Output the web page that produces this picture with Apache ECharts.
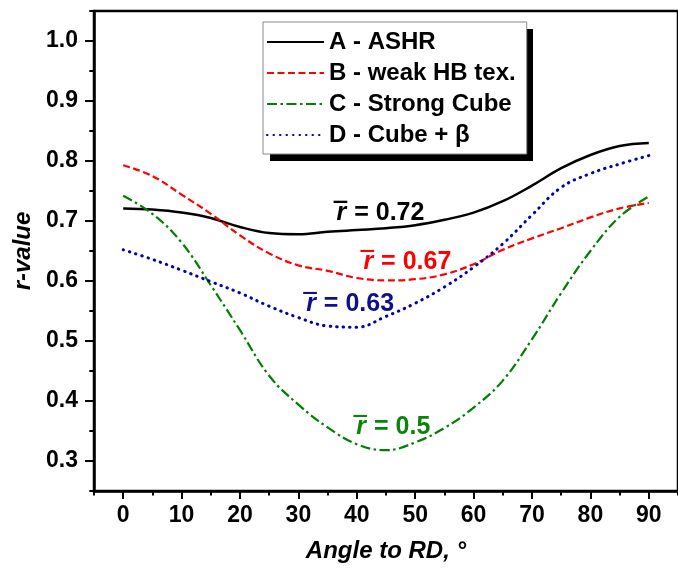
<!DOCTYPE html>
<html><head><meta charset="utf-8">
<script src="https://cdn.jsdelivr.net/npm/echarts@6/dist/echarts.min.js"></script>
<style>html,body{margin:0;padding:0;background:#fff}#c{width:678px;height:568px}</style>
</head><body><div id="c"></div><script>
const angles = [0,5,10,15,20,25,30,35,40,45,50,55,60,65,70,75,80,85,90];
const seriesA = [0.721,0.719,0.714,0.705,0.690,0.680,0.678,0.682,0.685,0.688,0.693,0.702,0.714,0.733,0.759,0.788,0.810,0.825,0.830];
const seriesB = [0.793,0.775,0.744,0.712,0.676,0.646,0.626,0.617,0.605,0.601,0.603,0.611,0.628,0.652,0.671,0.688,0.706,0.721,0.730];
const seriesC = [0.742,0.712,0.664,0.593,0.518,0.442,0.394,0.356,0.328,0.318,0.331,0.355,0.389,0.434,0.503,0.580,0.650,0.707,0.741];
const seriesD = [0.652,0.636,0.618,0.599,0.580,0.558,0.539,0.525,0.523,0.541,0.563,0.590,0.623,0.662,0.710,0.756,0.779,0.795,0.809];
const seriesNames = ['A - ASHR','B - weak HB tex.','C - Strong Cube','D - Cube + \u03b2'];
const meanLabels = ['0.72','0.67','0.5','0.63'];
const meanAt = [[43.8,0.713],[48.4,0.631],[46.0,0.356],[38.6,0.561]];
const xMajor = [0,10,20,30,40,50,60,70,80,90];
const xMinor = [-5,5,15,25,35,45,55,65,75,85,95];
const yMajor = [0.3,0.4,0.5,0.6,0.7,0.8,0.9,1.0];
const yMinor = [0.25,0.35,0.45,0.55,0.65,0.75,0.85,0.95,1.05];

const FONT = '"Liberation Sans", Arial, sans-serif';
const colors = ['#000000','#ff0000','#008000','#0000b4'];
const textColors = ['#000000','#ff0000','#0a840a','#10108c'];
const lineStyles = [
  {width:2.5, type:'solid'},
  {width:2.2, type:[7,3.5]},
  {width:2.2, type:[10,3.5,2.5,3.5]},
  {width:3, type:[0.5,6], cap:'round'}
];
const allValues = [seriesA, seriesB, seriesC, seriesD];

function overline(c) {
  return new echarts.graphic.LinearGradient(0, 0, 0, 1, [
    {offset:0, color:c}, {offset:0.09, color:c},
    {offset:0.09, color:'rgba(0,0,0,0)'}, {offset:1, color:'rgba(0,0,0,0)'}
  ]);
}

const series = allValues.map((vals, i) => ({
  name: seriesNames[i],
  type: 'line',
  smooth: 0.4,
  symbol: 'none',
  data: angles.map((a, k) => [a, vals[k]]),
  itemStyle: {color: colors[i]},
  lineStyle: Object.assign({color: colors[i]}, lineStyles[i]),
  markPoint: {
    symbol: 'circle', symbolSize: 1,
    itemStyle: {color: 'rgba(0,0,0,0)'},
    label: {
      show: true, position: 'inside',
      formatter: '{r|r} = ' + meanLabels[i],
      fontFamily: FONT, fontWeight: 'bold', fontSize: 25, color: textColors[i],
      rich: {r: {fontFamily: FONT, fontStyle: 'italic', fontWeight: 'bold', fontSize: 25,
                 lineHeight: 22, padding: [0, 1, 0, 3], backgroundColor: overline(textColors[i]),
                 color: textColors[i]}}
    },
    data: [{coord: meanAt[i]}]
  }
}));

const tickLine = {color:'#000', width:2};
const chart = echarts.init(document.getElementById('c'), null, {renderer:'canvas'});
chart.setOption({
  animation: false,
  backgroundColor: '#fff',
  grid: {left:94, top:11, width:596, height:480, show:true, borderColor:'#000', borderWidth:2.5},
  legend: {
    orient:'vertical', left:263, top:22, padding:[8,11,7,3],
    itemWidth:57, itemHeight:14, itemGap:7, selectedMode:false,
    backgroundColor:'#fff', borderColor:'#888', borderWidth:1,
    itemStyle:{opacity:0},
    textStyle:{fontFamily:FONT, fontWeight:'bold', fontSize:24, lineHeight:24, color:'#000'},
    data: seriesNames
  },
  graphic: [{type:'rect', left:270, top:29, shape:{width:263, height:132}, style:{fill:'#000'}, z:3}],
  xAxis: [{
    type:'value', min:-5, max:95, position:'bottom',
    axisLine:{show:true, onZero:false, lineStyle:{color:'#000', width:2.5}},
    axisTick:{show:true, customValues:xMajor, length:8, lineStyle:tickLine},
    axisLabel:{customValues:xMajor, margin:13, fontFamily:FONT, fontWeight:'bold', fontSize:23, color:'#000'},
    splitLine:{show:false},
    name:'Angle to RD, \u00b0', nameLocation:'middle', nameGap:48,
    nameTextStyle:{fontFamily:FONT, fontStyle:'italic', fontWeight:'bold', fontSize:24, color:'#000'}
  },{
    type:'value', min:-5, max:95, position:'bottom',
    axisLine:{show:false, onZero:false},
    axisTick:{show:true, customValues:xMinor, length:4.5, lineStyle:tickLine},
    axisLabel:{show:false}, splitLine:{show:false}
  }],
  yAxis: [{
    type:'value', min:0.25, max:1.05, position:'left',
    axisLine:{show:true, onZero:false, lineStyle:{color:'#000', width:2.5}},
    axisTick:{show:true, customValues:yMajor, length:9, lineStyle:tickLine},
    axisLabel:{customValues:yMajor, formatter:v => v.toFixed(1), margin:16, fontFamily:FONT, fontWeight:'bold', fontSize:23, color:'#000'},
    splitLine:{show:false},
    name:'r-value', nameLocation:'middle', nameGap:50,
    nameTextStyle:{fontFamily:FONT, fontStyle:'italic', fontWeight:'bold', fontSize:24, color:'#000'}
  },{
    type:'value', min:0.25, max:1.05, position:'left',
    axisLine:{show:false, onZero:false},
    axisTick:{show:true, customValues:yMinor, length:4.7, lineStyle:tickLine},
    axisLabel:{show:false}, splitLine:{show:false}
  }],
  series: series
});
</script></body></html>
